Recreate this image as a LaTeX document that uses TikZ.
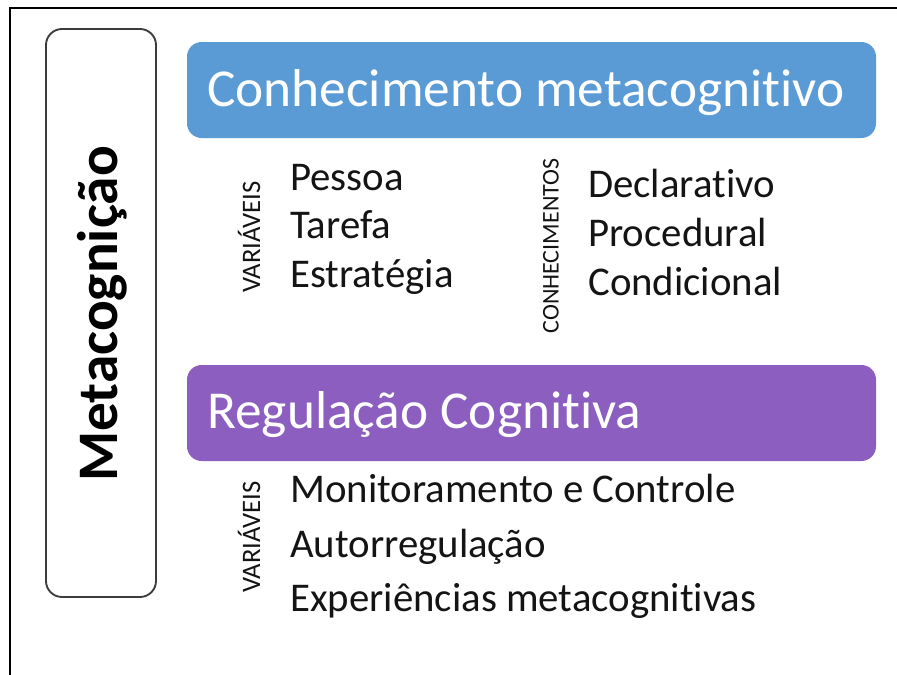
\documentclass[tikz,border=0pt]{standalone}
\usepackage{fontspec}
\setmainfont[Ligatures=NoCommon]{Carlito}
\definecolor{cblue}{RGB}{91,155,213}
\definecolor{cpurple}{RGB}{139,94,192}
\definecolor{ctext}{RGB}{20,20,20}
\begin{document}
\begin{tikzpicture}[x=0.75pt,y=-0.75pt,
  band/.style={rounded corners=11pt,inner sep=0pt},
  title/.style={anchor=base west,text=white,font=\fontsize{40}{48}\selectfont,inner sep=0pt},
  item/.style={anchor=base west,text=ctext,font=\fontsize{30.6}{36}\selectfont,inner sep=0pt},
  vlabel/.style={rotate=90,text=ctext,inner sep=0pt}]
\useasboundingbox (0,0) rectangle (897,675);
\fill[white] (0,0) rectangle (897,675);
% outer frame (top and left)
\draw[line width=1.5pt,black] (9.5,675) -- (9.5,7.5) -- (897,7.5);
% left box
\draw[line width=1.4pt,draw={rgb,255:red,60;green,60;blue,60},rounded corners=12pt] (46,29) rectangle (156,597);
\node[rotate=90,font=\fontsize{43}{50}\selectfont\bfseries,text=black,inner sep=0pt] (meta) at (102,314) {Metacognição};
% blue band
\fill[cblue,band] (187,42) rectangle (876,138);
\coordinate (blueanchor) at (207,106);
\node[title] (ck) at (blueanchor) {Conhecimento metacognitivo};
% variables 1
\node[vlabel,font=\fontsize{20}{24}\selectfont] (v1) at (249,237) {VARIÁVEIS};
\node[item] (p1) at (290,190) {Pessoa};
\node[item] (p2) at (290,238) {Tarefa};
\node[item] (p3) at (290,287) {Estratégia};
\node[vlabel,font=\fontsize{18}{22}\selectfont] (c1) at (551,246) {CONHECIMENTOS};
\node[item] (d1) at (588,197) {Declarativo};
\node[item] (d2) at (588,246) {Procedural};
\node[item] (d3) at (588,295) {Condicional};
% purple band
\fill[cpurple,band] (187,365) rectangle (876,461);
\coordinate (purpleanchor) at (207,428);
\node[title] (rc) at (purpleanchor) {Regulação Cognitiva};
\node[vlabel,font=\fontsize{20}{24}\selectfont] (v2) at (249,537) {VARIÁVEIS};
\node[item] (m1) at (290,502) {Monitoramento e Controle};
\node[item] (m2) at (290,557) {Autorregulação};
\node[item] (m3) at (290,611) {Experiências metacognitivas};
\end{tikzpicture}
\end{document}
